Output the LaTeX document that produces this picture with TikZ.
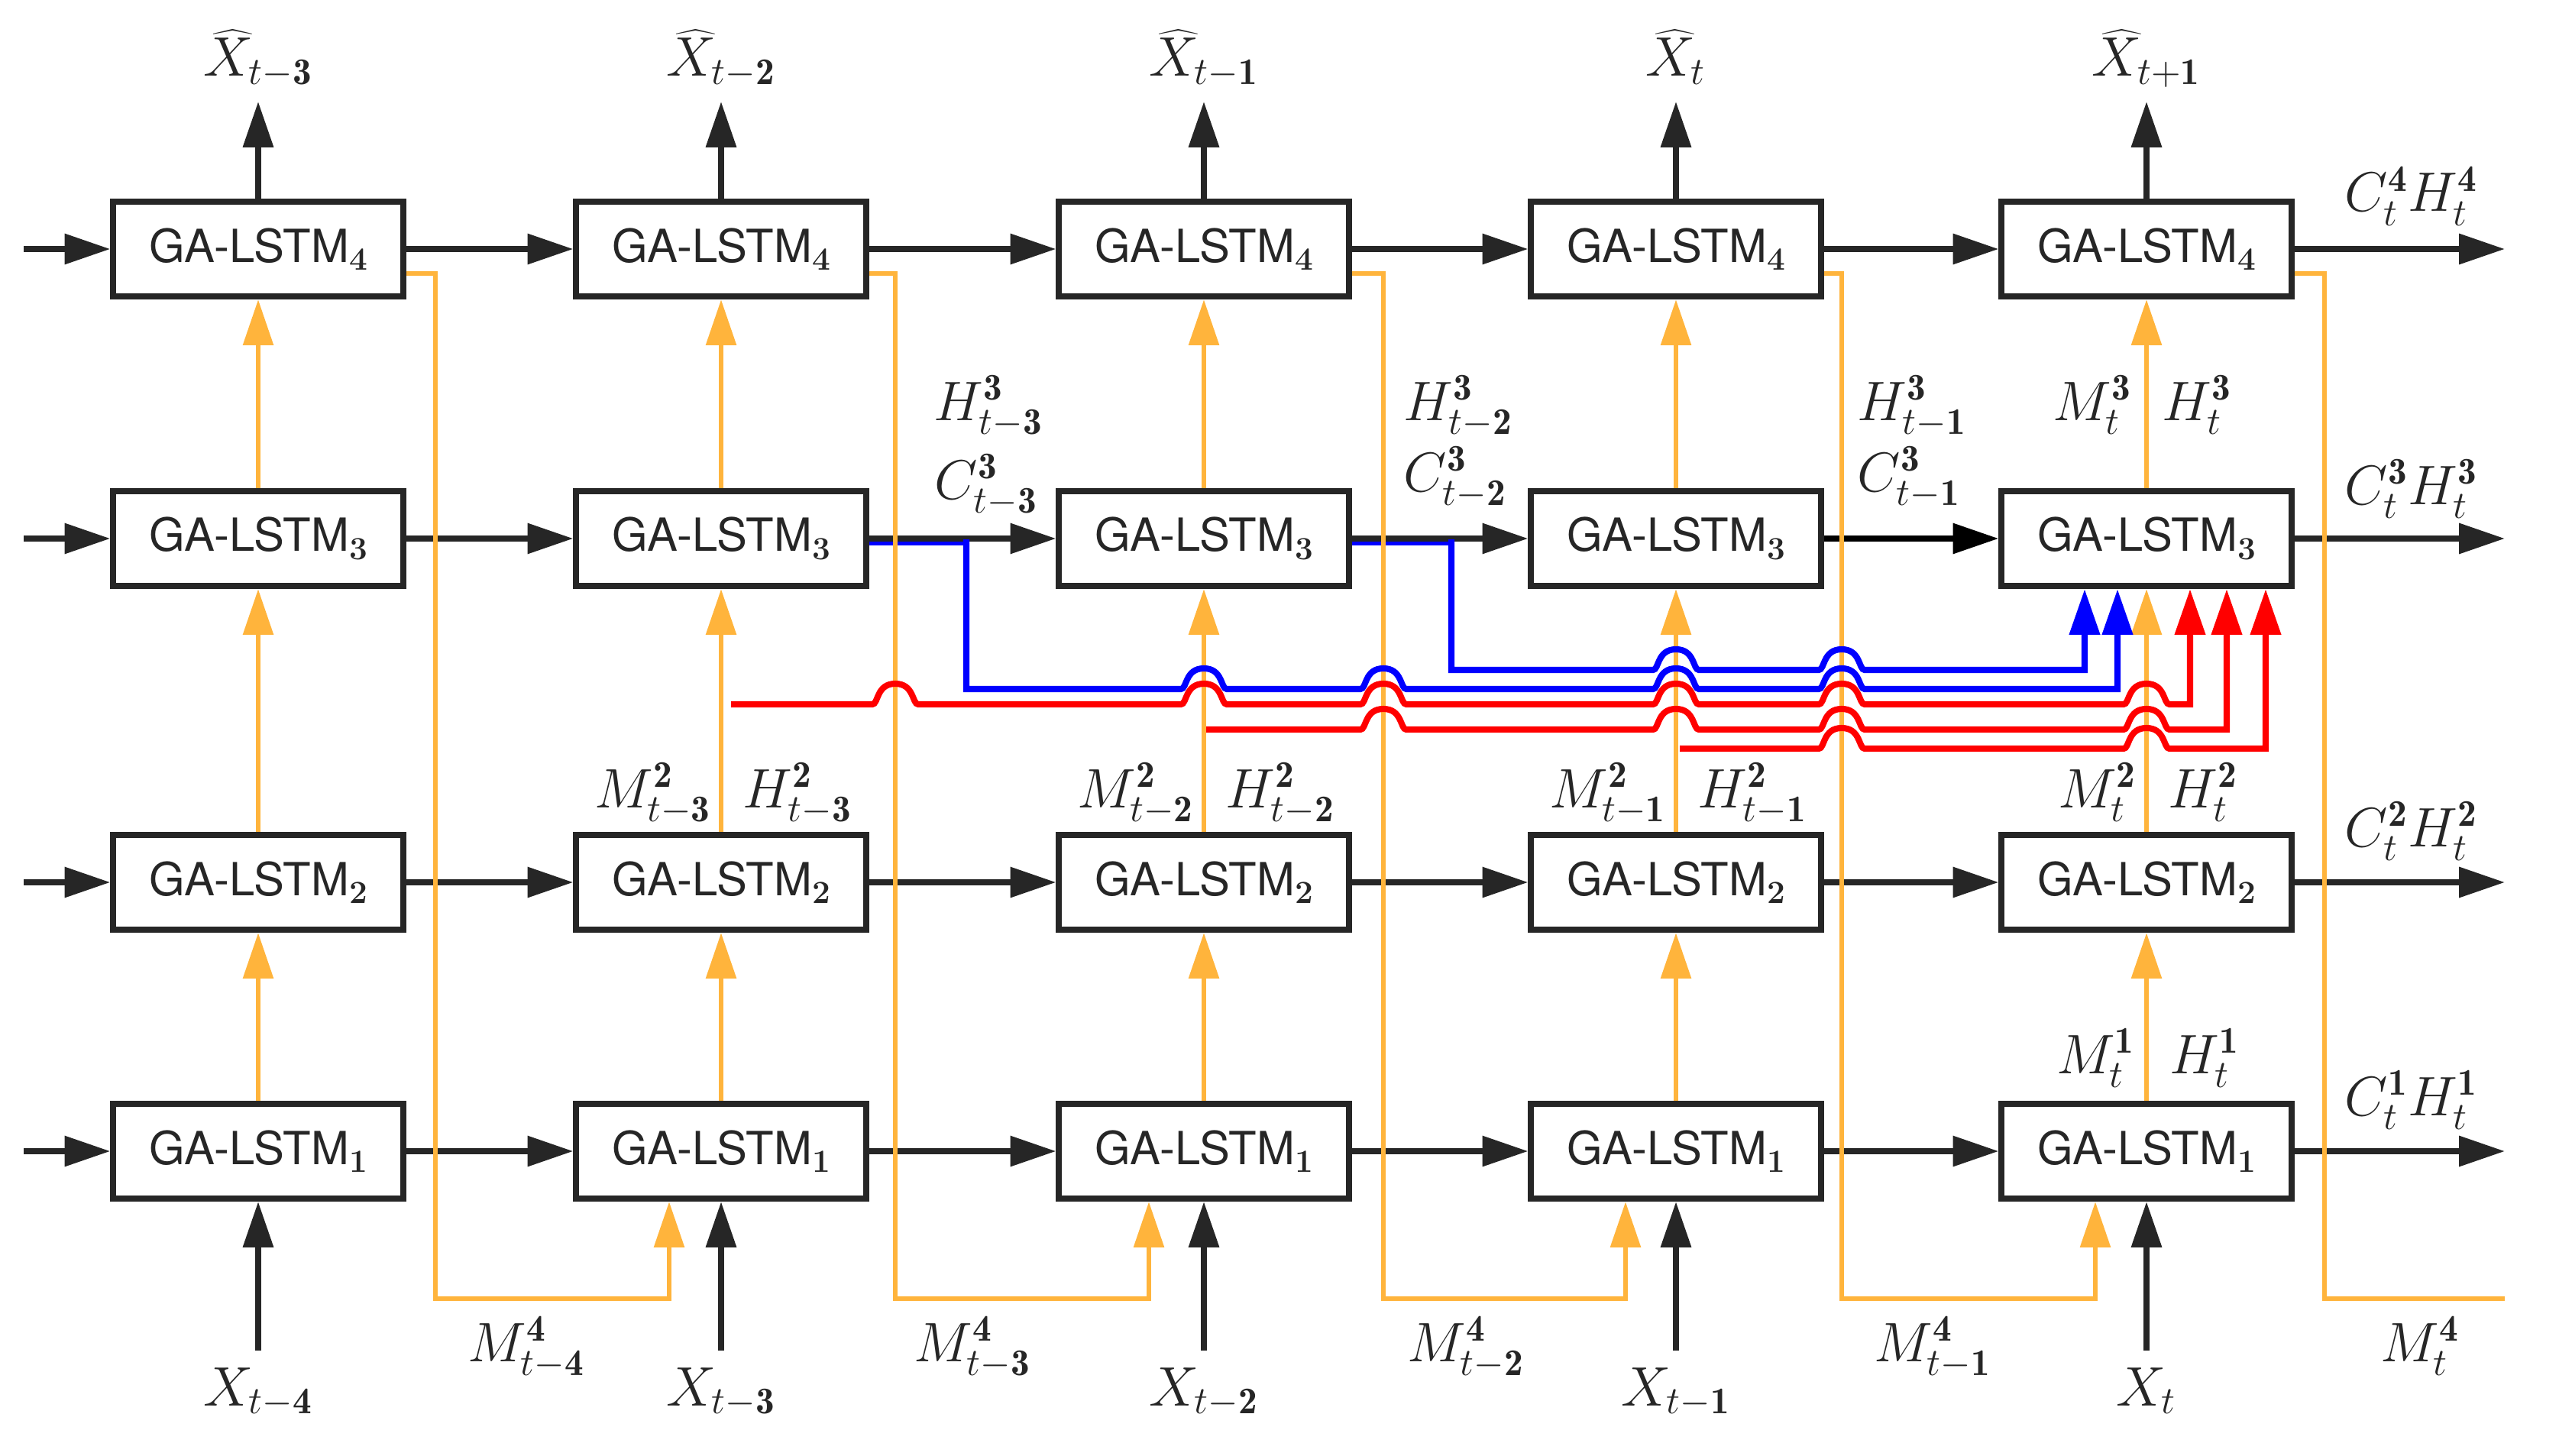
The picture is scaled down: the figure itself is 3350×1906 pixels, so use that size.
\documentclass[tikz,border=0pt]{standalone}
\usepackage{fontspec}
\newfontfamily\heros{TeX Gyre Heros}
\usetikzlibrary{arrows.meta}
\definecolor{gal}{RGB}{255,180,60}
\definecolor{dk}{RGB}{38,38,38}
\definecolor{bl}{RGB}{0,0,255}
\definecolor{rd}{RGB}{255,0,0}
\newcommand\bd[1]{\mathbf{#1}}
\newcommand\cellsub[1]{\raisebox{-3pt}{\rmfamily\bfseries\fontsize{12}{12}\selectfont #1}}
\tikzset{
  cell/.style={draw=dk, fill=white, line width=2.3pt, minimum width=3.79cm, minimum height=1.24cm, inner sep=0pt, text=dk, font=\heros\fontsize{17}{20}\selectfont},
  arr/.style={-{Triangle[length=17pt,width=11pt]}},
  blk/.style={draw=dk, line width=2.1pt, arr},
  pureblk/.style={draw=black, line width=2.1pt, arr},
  yl/.style={draw=gal, line width=1.9pt},
  bln/.style={draw=bl, line width=2.3pt},
  rdn/.style={draw=rd, line width=2.3pt},
  lab/.style={inner sep=0pt, text=dk, font=\fontsize{20}{24}\selectfont},
  hopover/.style 2 args={insert path={-- ({#1-30},#2) .. controls ({#1-22},#2) and ({#1-25},{#2-27}) .. (#1,{#2-27}) .. controls ({#1+25},{#2-27}) and ({#1+22},#2) .. ({#1+30},#2)}},
}
\begin{document}
\begin{tikzpicture}[x=0.01cm,y=-0.01cm]
\useasboundingbox (0,0) rectangle (3350,1906);
% boxes
\foreach \col/\x in {1/338,2/944,3/1576,4/2194,5/2810}{
  \foreach \row/\y in {1/1507,2/1155,3/705,4/326}{
    \node[cell] (r\row c\col) at (\x,\y) {GA-LSTM\cellsub{\row}};
  }
}
% blue stubs under the black arrows
\draw[bln] (r3c2.east |- 0,710) -- (1269,710);
\draw[bln] (r3c3.east |- 0,710) -- (1904,710);
% black horizontal arrows
\foreach \row in {1,2,3,4}{
  \draw[blk] (31,0 |- r\row c1.west) -- (r\row c1.west);
  \draw[blk] (r\row c5.east) -- (3279,0 |- r\row c5.east);
}
\foreach \row in {1,2,4}{
  \foreach \a/\b in {1/2,2/3,3/4,4/5}{
    \draw[blk] (r\row c\a.east) -- (r\row c\b.west);
  }
}
\foreach \a/\b in {1/2,2/3,3/4}{\draw[blk] (r3c\a.east) -- (r3c\b.west);}
\draw[pureblk] (r3c4.east) -- (r3c5.west);
% outputs
\foreach \col/\s in {1/{t-\bd{3}},2/{t-\bd{2}},3/{t-\bd{1}},4/t,5/{t+\bd{1}}}{
  \draw[blk] (r4c\col.north) -- (r4c\col.north |- 0,133);
  \node[lab,anchor=base] (xh\col) at (r4c\col.north |- 0,100) {$\widehat{X}_{\s}$};
}
% inputs
\foreach \col/\s in {1/{t-\bd{4}},2/{t-\bd{3}},3/{t-\bd{2}},4/{t-\bd{1}},5/t}{
  \draw[blk] (r1c\col.south |- 0,1768) -- (r1c\col.south);
  \node[lab,anchor=base] (xin\col) at (r1c\col.south |- 0,1840) {$X_{\s}$};
}
% yellow vertical arrows
\foreach \col in {1,...,5}{
  \draw[yl,arr] (r1c\col.north) -- (r2c\col.south);
  \draw[yl,arr] (r2c\col.north) -- (r3c\col.south);
  \draw[yl,arr] (r3c\col.north) -- (r4c\col.south);
}
% M4 feedback lines
\foreach \col/\m/\a/\nx in {1/570/876/2,2/1172/1504/3,3/1811/2128/4,4/2411/2743/5}{
  \draw[yl,arr] (r4c\col.east |- 0,358) -| (\m,1700) -| (\a,0 |- r1c\nx.south);
}
\draw[yl] (r4c5.east |- 0,358) -| (3043,1700) -- (3279,1700);
% blue lines
\draw[bln,arr] (1265,706) -- (1265,902) [hopover={1576}{902}] [hopover={1811}{902}] [hopover={2194}{902}] [hopover={2411}{902}] -- (2772,902) -- (2772,0 |- r3c5.south);
\draw[bln,arr] (1900,706) -- (1900,877) [hopover={2194}{877}] [hopover={2411}{877}] -- (2729,877) -- (2729,0 |- r3c5.south);
% red lines
\draw[rdn,arr] (957,922) [hopover={1172}{922}] [hopover={1576}{922}] [hopover={1811}{922}] [hopover={2194}{922}] [hopover={2411}{922}] [hopover={2810}{922}] -- (2867,922) -- (2867,0 |- r3c5.south);
\draw[rdn,arr] (1579,955) [hopover={1811}{955}] [hopover={2194}{955}] [hopover={2411}{955}] [hopover={2810}{955}] -- (2915,955) -- (2915,0 |- r3c5.south);
\draw[rdn,arr] (2199,980) [hopover={2411}{980}] [hopover={2810}{980}] -- (2966,980) -- (2966,0 |- r3c5.south);
% labels between rows 3 and 4
\node[lab,anchor=base west] (h3a) at (1222,550) {$H_{t-\bd{3}}^{\bd{3}}$};
\node[lab,anchor=base west] (c3a) at (1223,653) {$C_{t-\bd{3}}^{\bd{3}}$};
\node[lab,anchor=base west] (h3b) at (1837,550) {$H_{t-\bd{2}}^{\bd{3}}$};
\node[lab,anchor=base west] (c3b) at (1837,643) {$C_{t-\bd{2}}^{\bd{3}}$};
\node[lab,anchor=base west] (h3c) at (2431,550) {$H_{t-\bd{1}}^{\bd{3}}$};
\node[lab,anchor=base west] (c3c) at (2431,643) {$C_{t-\bd{1}}^{\bd{3}}$};
\node[lab,anchor=base west] (m3t) at (2687,550) {$M_{t}^{\bd{3}}$};
\node[lab,anchor=base west] (h3t) at (2830,550) {$H_{t}^{\bd{3}}$};
% labels above row 2
\foreach \col/\s in {2/{t-\bd{3}},3/{t-\bd{2}},4/{t-\bd{1}},5/t}{
  \node[lab,anchor=base east] (m2\col) at ([xshift=-0.12cm]r2c\col.north |- 0,1057) {$M_{\s}^{\bd{2}}$};
  \node[lab,anchor=base west] (h2\col) at ([xshift=0.28cm]r2c\col.north |- 0,1057) {$H_{\s}^{\bd{2}}$};
}
% labels above row 1
\node[lab,anchor=base east] (m1t) at (2796,1405) {$M_{t}^{\bd{1}}$};
\node[lab,anchor=base west] (h1t) at (2840,1405) {$H_{t}^{\bd{1}}$};
% right labels
\node[lab,anchor=base west] (ch4) at (3069,277) {$C_t^{\bd{4}}H_t^{\bd{4}}$};
\node[lab,anchor=base west] (ch3) at (3069,660) {$C_t^{\bd{3}}H_t^{\bd{3}}$};
\node[lab,anchor=base west] (ch2) at (3069,1108) {$C_t^{\bd{2}}H_t^{\bd{2}}$};
\node[lab,anchor=base west] (ch1) at (3069,1460) {$C_t^{\bd{1}}H_t^{\bd{1}}$};
% M4 labels
\node[lab,anchor=base west] (m4a) at (612,1782) {$M_{t-\bd{4}}^{\bd{4}}$};
\node[lab,anchor=base west] (m4b) at (1196,1782) {$M_{t-\bd{3}}^{\bd{4}}$};
\node[lab,anchor=base west] (m4c) at (1842,1782) {$M_{t-\bd{2}}^{\bd{4}}$};
\node[lab,anchor=base west] (m4d) at (2453,1782) {$M_{t-\bd{1}}^{\bd{4}}$};
\node[lab,anchor=base west] (m4e) at (3116,1782) {$M_{t}^{\bd{4}}$};
\end{tikzpicture}
\end{document}
